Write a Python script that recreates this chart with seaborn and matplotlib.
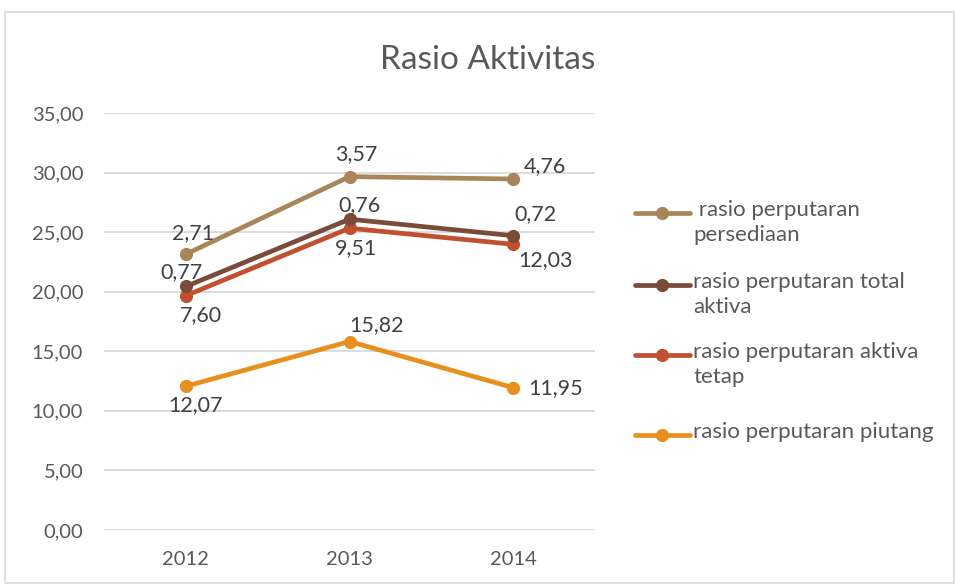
import matplotlib
matplotlib.use("Agg")
import matplotlib.pyplot as plt
from matplotlib.lines import Line2D
from matplotlib.patches import Rectangle
import seaborn as sns
import pandas as pd
import numpy as np

# Values as printed on the chart (the chart stacks them, Excel "stacked line")
years = ["2012", "2013", "2014"]
piutang = [12.07, 15.82, 11.95]
aktiva_tetap = [7.60, 9.51, 12.03]
total_aktiva = [0.77, 0.76, 0.72]
persediaan = [2.71, 3.57, 4.76]

# stack order bottom -> top
series_names = [
    "rasio perputaran piutang",
    "rasio perputaran aktiva tetap",
    "rasio perputaran total aktiva",
    "rasio perputaran persediaan",
]
series_values = [piutang, aktiva_tetap, total_aktiva, persediaan]
colors = ["#E8901E", "#C0502F", "#7B4B3A", "#A8865A"]
legend_labels = [
    "rasio perputaran piutang",
    "rasio perputaran aktiva\ntetap",
    "rasio perputaran total\naktiva",
    " rasio perputaran\npersediaan",
]

# label offsets in pixels (dx, dy) relative to each point
label_offsets = [
    [(10, -19), (27, 16), (42, 0)],
    [(15, -19), (7, -20), (32, -16)],
    [(-4, 14), (10, 14), (22, 22)],
    [(7, 21), (7, 23), (32, 13)],
]

stacked = np.cumsum(np.array(series_values), axis=0)
rows = []
for name, vals, tops in zip(series_names, series_values, stacked):
    for i, yr in enumerate(years):
        rows.append({"series": name, "x": i, "year": yr, "value": vals[i], "stacked": tops[i]})
df = pd.DataFrame(rows)

sns.set_theme(style="white")
plt.rcParams["font.family"] = ["Lato", "DejaVu Sans"]
text_color = "#595959"

fig = plt.figure(figsize=(9.56, 5.84), dpi=100)
ax = fig.add_axes([104 / 956, 1 - 530 / 584, (595 - 104) / 956, (530 - 113) / 584])

sns.lineplot(
    data=df, x="x", y="stacked", hue="series", hue_order=series_names,
    palette=colors, marker="o", markersize=9.5, markeredgewidth=0,
    linewidth=3.4, legend=False, ax=ax, zorder=3,
)

# data labels show the individual (unstacked) values
for s_idx, name in enumerate(series_names):
    sub = df[df["series"] == name]
    for j, (_, r) in enumerate(sub.iterrows()):
        dx, dy = label_offsets[s_idx][j]
        ax.annotate(
            f"{r['value']:.2f}".replace(".", ","),
            (r["x"], r["stacked"]), xytext=(dx, dy), textcoords="offset pixels",
            ha="center", va="center", fontsize=15.5, color="#404040", zorder=5,
        )

ax.set_xlim(-0.5, 2.5)
ax.set_ylim(0, 35)
ax.set_yticks(np.arange(0, 36, 5))
ax.set_yticklabels([f"{v:.2f}".replace(".", ",") for v in np.arange(0, 36, 5)])
ax.set_xticks(range(len(years)))
ax.set_xticklabels(years)
ax.tick_params(axis="both", colors=text_color, labelsize=14.5, length=0)
ax.tick_params(axis="y", pad=15)
ax.tick_params(axis="x", pad=15)
ax.grid(axis="y", color="#D9D9D9", linewidth=1.3)
ax.set_axisbelow(True)
for sp in ax.spines.values():
    sp.set_visible(False)
ax.set_xlabel("")
ax.set_ylabel("")

fig.text(488 / 956, 1 - 60 / 584, "Rasio Aktivitas", ha="center", va="center",
         fontsize=24, color=text_color)

# legend drawn by hand so the marker sits on the first text line
legend_y = [435, 355, 285, 213]
for name, col, lab, ly in zip(series_names, colors, legend_labels, legend_y):
    yf = 1 - ly / 584
    fig.add_artist(Line2D([635 / 956, 690 / 956], [yf, yf], color=col, linewidth=3.4,
                          transform=fig.transFigure))
    fig.add_artist(Line2D([662 / 956], [yf], color=col, marker="o", markersize=9.5,
                          markeredgewidth=0, transform=fig.transFigure))
    fig.text(693 / 956, 1 - (ly - 13) / 584, lab, ha="left", va="top", fontsize=16,
             color=text_color, linespacing=1.32, transform=fig.transFigure)

# chart border
fig.add_artist(Rectangle((5 / 956, 1 / 584), 949 / 956, 571 / 584, fill=False,
                         edgecolor="#D9D9D9", linewidth=1.2, transform=fig.transFigure))

fig.savefig("out.png", dpi=100)
